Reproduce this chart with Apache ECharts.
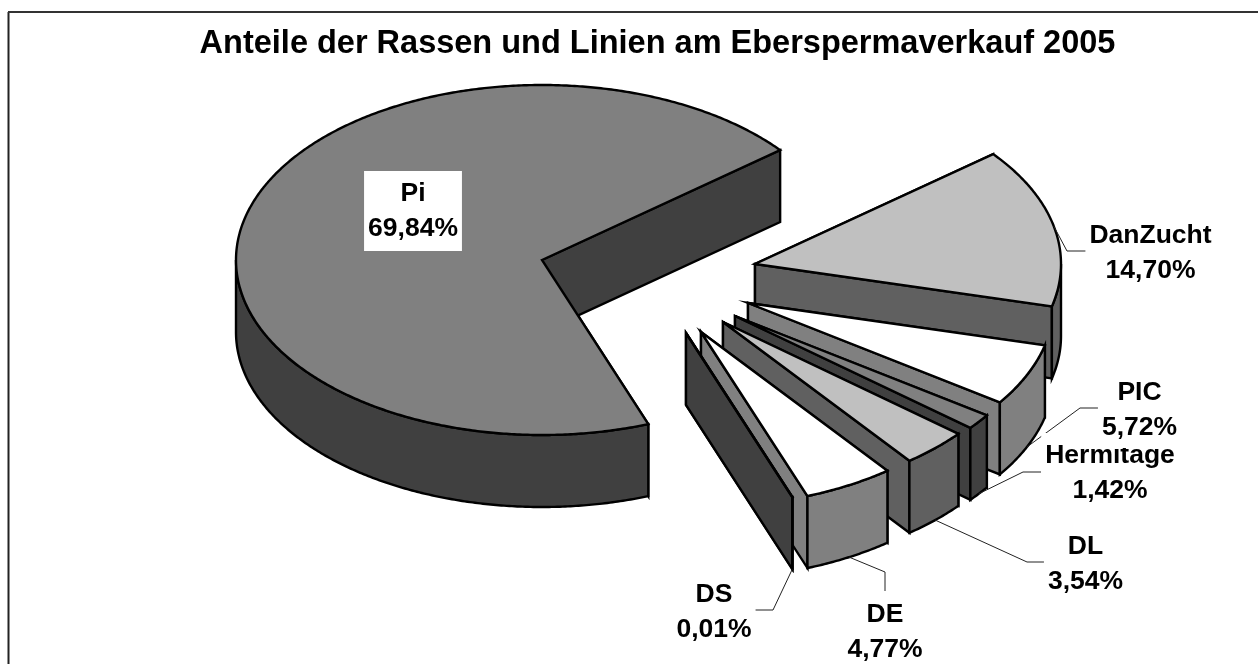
<!DOCTYPE html>
<html>
<head>
<meta charset="utf-8">
<style>html,body{margin:0;padding:0;background:#fff}#c{width:1258px;height:664px}</style>
<script src="https://cdn.jsdelivr.net/npm/echarts@6/dist/echarts.min.js"></script>
</head>
<body>
<div id="c"></div>
<script>
// Data, in pie order (counter-clockwise from the first cut)
var titleText = 'Anteile der Rassen und Linien am Eberspermaverkauf 2005';
var categories = ['Pi', 'DS', 'DE', 'DL', 'Hermitage', 'PIC', 'DanZucht'];
var shares = [69.84, 0.01, 4.77, 3.54, 1.42, 5.72, 14.70];

// Style
var topColors  = ['#808080', '#808080', '#ffffff', '#c0c0c0', '#808080', '#ffffff', '#c0c0c0'];
var wallColors = ['#404040', '#404040', '#808080', '#606060', '#404040', '#808080', '#606060'];
var FONT = '"Liberation Sans", Arial, sans-serif';

// Layout of the projected pie
var CENTER = [542, 260], RX = 306, RY = 175, DEPTH = 72, START_DEG = 38.9;
var explodeOffsets = [[0, 0], [144, 73], [159, 72], [181, 62], [193, 56], [206, 43], [213, 4]];
var labelCenters = [[413, 211], [714, 612], [885, 632], [1085.5, 564], [1110, 473], [1139.5, 410], [1150.5, 253]];
var labelBottomPad = [5, 5, 5, 5, 5, 1, 5];
var leaderElbows = [null, [773, 610], [885, 572], [1027, 562], [1023, 472], [1080, 408], [1067, 251]];
var leaderEnds   = [null, [755, 610], [885, 591], [1045, 562], [1041, 472], [1098, 408], [1086, 251]];
var drawOrder  = [0, 6, 5, 4, 3, 2, 1];
var labelOrder = [0, 1, 2, 3, 6, 4, 5];

var total = shares.reduce(function (a, b) { return a + b; }, 0);
var slices = [], cursor = START_DEG;
shares.forEach(function (v, i) {
  var span = v / total * 360;
  slices.push({ a: cursor, b: cursor + span,
    cx: CENTER[0] + explodeOffsets[i][0], cy: CENTER[1] + explodeOffsets[i][1] });
  cursor += span;
});
function rim(s, deg, dz) {
  var t = deg * Math.PI / 180;
  return [s.cx + RX * Math.cos(t), s.cy - RY * Math.sin(t) + (dz || 0)];
}
function arc(s, a, b, dz) {
  var pts = [], n = Math.max(1, Math.ceil((b - a) * 2));
  for (var k = 0; k <= n; k++) pts.push(rim(s, a + (b - a) * k / n, dz));
  return pts;
}
function poly(points, fill) {
  return { type: 'polygon', shape: { points: points }, silent: true,
    style: { fill: fill, stroke: '#000', lineWidth: 2.4, lineJoin: 'miter', miterLimit: 10 } };
}
function cutWall(s, deg, fill) {
  var p = rim(s, deg);
  return poly([[s.cx, s.cy], p, [p[0], p[1] + DEPTH], [s.cx, s.cy + DEPTH]], fill);
}
function renderSlice(params, api) {
  var i = api.value(0), s = slices[i], children = [];
  children.push(cutWall(s, s.b, wallColors[i]));
  children.push(cutWall(s, s.a, wallColors[i]));
  var fa = Math.max(s.a, 180), fb = Math.min(s.b, 360);
  if (fb > fa) {
    children.push(poly(arc(s, fa, fb, 0).concat(arc(s, fa, fb, DEPTH).reverse()), wallColors[i]));
  }
  children.push(poly([[s.cx, s.cy]].concat(arc(s, s.a, s.b, 0)), topColors[i]));
  return { type: 'group', children: children };
}
function renderLeader(params, api) {
  var i = api.value(0), s = slices[i], mid = (s.a + s.b) / 2;
  var front = Math.sin(mid * Math.PI / 180) < 0;
  return { type: 'polyline', silent: true,
    shape: { points: [rim(s, mid, front ? DEPTH : 0), leaderElbows[i], leaderEnds[i]] },
    style: { fill: null, stroke: '#222', lineWidth: 1 } };
}
function renderLabel(params, api) {
  var i = api.value(0);
  return { type: 'text', silent: true,
    style: { x: labelCenters[i][0], y: labelCenters[i][1],
      text: categories[i] + '\n' + shares[i].toFixed(2).replace('.', ',') + '%',
      font: 'bold 26.5px ' + FONT, lineHeight: 35, align: 'center', verticalAlign: 'middle',
      fill: '#000', backgroundColor: '#fff', padding: [5, 4, labelBottomPad[i], 4] } };
}
function rows(order) { return order.map(function (i) { return [i, shares[i]]; }); }

var chart = echarts.init(document.getElementById('c'), null, { renderer: 'canvas' });
chart.setOption({
  animation: false,
  backgroundColor: '#fff',
  title: { text: titleText, left: 657.5, top: 23, textAlign: 'center',
    textStyle: { fontFamily: FONT, fontWeight: 'bold', fontSize: 32.5, color: '#000' } },
  graphic: [
    { type: 'line', silent: true, shape: { x1: 8.5, y1: 12, x2: 8.5, y2: 664 }, style: { stroke: '#222', lineWidth: 2 } },
    { type: 'line', silent: true, shape: { x1: 8, y1: 12, x2: 1258, y2: 12 }, style: { stroke: '#333', lineWidth: 2 } }
  ],
  series: [
    { type: 'custom', coordinateSystem: 'none', z: 2, renderItem: renderSlice, data: rows(drawOrder) },
    { type: 'custom', coordinateSystem: 'none', z: 3, renderItem: renderLeader,
      data: rows(drawOrder.filter(function (i) { return leaderEnds[i]; })) },
    { type: 'custom', coordinateSystem: 'none', z: 4, renderItem: renderLabel, data: rows(labelOrder) }
  ]
});
chart.setOption({ title: { left: 652.5 } });
</script>
</body>
</html>
